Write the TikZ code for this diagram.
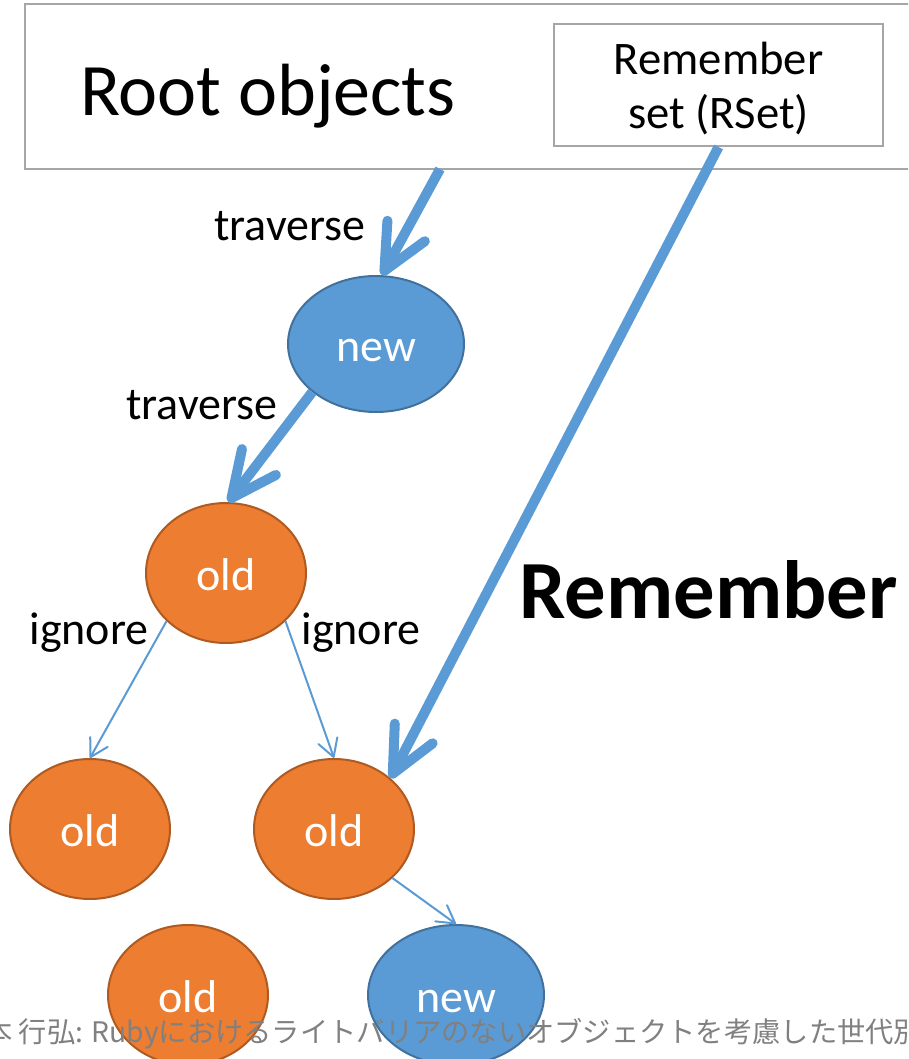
\documentclass[tikz,border=0pt]{standalone}
\usepackage{fontspec}
\setmainfont{Carlito}
\newfontfamily\jpfont{Noto Sans CJK JP}
\usetikzlibrary{arrows.meta,shapes.geometric}
\definecolor{nodeblue}{HTML}{5B9BD5}
\definecolor{blueline}{HTML}{41719C}
\definecolor{nodeorange}{HTML}{ED7D31}
\definecolor{orangeline}{HTML}{AE5A21}
\definecolor{boxgray}{HTML}{A6A6A6}
\definecolor{footgray}{HTML}{808080}
\tikzstyle{newvertex}=[ellipse,draw=blueline,fill=nodeblue,line width=1.5pt,minimum width=132pt,inner sep=0pt,text height=26pt,text depth=0pt,text=white,font=\fontsize{34.5}{40}\selectfont]
\tikzstyle{oldvertex}=[ellipse,draw=orangeline,fill=nodeorange,line width=1.5pt,minimum width=120pt,inner sep=0pt,text height=26pt,text depth=0pt,text=white,font=\fontsize{34.5}{40}\selectfont]
\tikzstyle{box}=[rectangle,draw=boxgray,line width=1.5pt,inner sep=0pt]
\tikzstyle{bigedge} = [draw,nodeblue,line width=7.5pt,-{Straight Barb[length=34pt,width=32pt,round]}]
\tikzstyle{smalledge} = [draw,nodeblue,line width=1.5pt,-{Straight Barb[length=13pt,width=15pt,round]}]
\tikzstyle{weight} = [inner sep=0pt,font=\fontsize{34.5}{40}\selectfont]

\begin{document}
\begin{tikzpicture}[x=0.75pt,y=-0.75pt]

    \useasboundingbox (0,0) rectangle (908,1059);
    \clip (0,0) rectangle (908,1059);

    % roots and remember set
    \node[box, minimum width=750pt, minimum height=123.75pt] (root) at (525,86.5) {};
    \node[inner sep=0pt, font=\fontsize{55.5}{66}\selectfont] (roottext) at (268,96) {Root objects};
    \node[box, minimum width=246.75pt, minimum height=91.5pt] (rset) at (718.5,85) {};
    \node[inner sep=0pt, align=center, font=\fontsize{35}{40.5}\selectfont] (rsettext) at (718.5,89) {Remember\\set (RSet)};
    \coordinate (rootout) at (440,169);

     \foreach \x/\y/\h/\name/\txt/\sty in {376/344/102/new1/new/newvertex, 226/573/105/old1/old/oldvertex,
                                          90/829/105/old2/old/oldvertex, 334/829/105/old3/old/oldvertex,
                                          188/995/105/old4/old/oldvertex, 456/995/105/new2/new/newvertex}
        \node[\sty, minimum height=\h pt] (\name) at (\x,\y) {\txt};

    \foreach \source/ \dest in {rootout/new1.85, new1.217/old1.88, rset.south/old3.42}
        \path[bigedge] (\source) -- (\dest);

    \foreach \source/ \dest in {old1.219/old2.north, old1.321/old3.north, old3.320/new2.north}
        \path[smalledge] (\source) -- (\dest);

    \foreach \x/\y/\name/\txt in {290/226/trav1/traverse, 202/405/trav2/traverse,
                                  89/633/ign1/ignore, 361/633/ign2/ignore}
        \node[weight] (\name) at (\x,\y) {\txt};

    \node[inner sep=0pt, font=\bfseries\fontsize{62}{74}\selectfont] (remember) at (708.5,590) {Remember};

%   citation at the foot, cut by the page
    \node[anchor=base west, inner sep=0pt, text=footgray, font=\jpfont\fontsize{21.2}{25}\selectfont] (cite) at (-16,1042)
        {本 行弘: Rubyにおけるライトバリアのないオブジェクトを考慮した世代別};

\end{tikzpicture}
\end{document}
